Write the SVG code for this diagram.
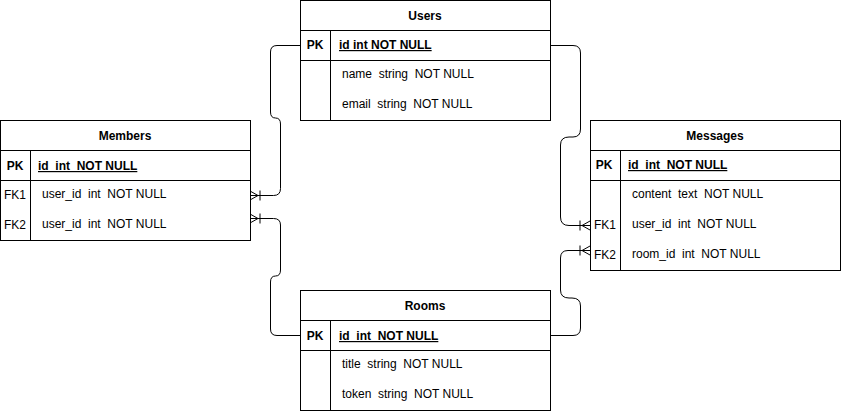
<svg xmlns="http://www.w3.org/2000/svg" width="841" height="412" viewBox="0 0 841 412">
<style>
text{font-family:"Liberation Sans",Arial,sans-serif;font-size:12px;fill:#000;white-space:pre}
.h{font-weight:bold;text-anchor:middle}
.pk{font-weight:bold;text-anchor:middle}
.pkf{font-weight:bold;text-decoration:underline}
.box{fill:#fff;stroke:#000;stroke-width:1}
.ln{stroke:#000;stroke-width:1;fill:none}
.conn{stroke:#000;stroke-width:1;fill:none;marker-end:url(#crow)}
</style>
<defs>
<marker id="crow" markerUnits="userSpaceOnUse" viewBox="-12 -7 13 14" refX="0" refY="0" markerWidth="13" markerHeight="14" orient="auto" overflow="visible">
<path d="M-8,0 L0,-4.5 M-8,0 L0,0 M-8,0 L0,4.5 M-10,-5 L-10,5" stroke="#000" stroke-width="1" fill="none"/>
</marker>
</defs>
<rect width="841" height="412" fill="#fff"/>
<g id="connectors">
<path class="conn" d="M300,45.5 H277 Q270.5,45.5 270.5,52 V112 Q270.5,118 275.5,118 Q280.5,118 280.5,124 V188.5 Q280.5,195.5 273.5,195.5 H250"/>
<path class="conn" d="M300,335.5 H277 Q270.5,335.5 270.5,329 V282 Q270.5,276 275.5,276 Q280.5,276 280.5,270 V225 Q280.5,218.5 273.5,218.5 H250"/>
<path class="conn" d="M550,45.5 H573 Q580.5,45.5 580.5,53 V129 Q580.5,137 573,137 H569 Q560.5,137 560.5,145 V217 Q560.5,225.5 569,225.5 H590"/>
<path class="conn" d="M550,335.5 H573 Q580.5,335.5 580.5,328 V306 Q580.5,298 572,298 H569 Q560.5,298 560.5,290 V258 Q560.5,250.5 568,250.5 H590"/>
</g>
<g id="users">
<rect class="box" x="300.5" y="0.5" width="250" height="120"/>
<path class="ln" d="M300.5,30.5 H550.5 M300.5,60.5 H550.5 M330.5,30.5 V120.5"/>
<text class="h" x="425" y="20">Users</text>
<text class="pk" x="315" y="49">PK</text>
<text class="pkf" x="339" y="49">id int NOT NULL</text>
<text x="342" y="78">name  string  NOT NULL</text>
<text x="342" y="108">email  string  NOT NULL</text>
</g>
<g id="members">
<rect class="box" x="0.5" y="120.5" width="250" height="120"/>
<path class="ln" d="M0.5,150.5 H250.5 M0.5,180.5 H250.5 M30.5,150.5 V240.5"/>
<text class="h" x="125" y="140">Members</text>
<text class="pk" x="15" y="170">PK</text>
<text class="pkf" x="38" y="170">id  int  NOT NULL</text>
<text x="4" y="199">FK1</text>
<text x="42" y="198">user_id  int  NOT NULL</text>
<text x="4" y="229">FK2</text>
<text x="42" y="228">user_id  int  NOT NULL</text>
</g>
<g id="messages">
<rect class="box" x="590.5" y="120.5" width="250" height="150"/>
<path class="ln" d="M590.5,150.5 H840.5 M590.5,180.5 H840.5 M620.5,150.5 V270.5"/>
<text class="h" x="715" y="140">Messages</text>
<text class="pk" x="604" y="169">PK</text>
<text class="pkf" x="628" y="169">id  int  NOT NULL</text>
<text x="632" y="198">content  text  NOT NULL</text>
<text x="594" y="229">FK1</text>
<text x="632" y="228">user_id  int  NOT NULL</text>
<text x="594" y="259">FK2</text>
<text x="632" y="258">room_id  int  NOT NULL</text>
</g>
<g id="rooms">
<rect class="box" x="300.5" y="290.5" width="250" height="120"/>
<path class="ln" d="M300.5,320.5 H550.5 M300.5,350.5 H550.5 M330.5,320.5 V410.5"/>
<text class="h" x="425" y="310">Rooms</text>
<text class="pk" x="315" y="340">PK</text>
<text class="pkf" x="339" y="340">id  int  NOT NULL</text>
<text x="342" y="368">title  string  NOT NULL</text>
<text x="342" y="398">token  string  NOT NULL</text>
</g>
</svg>
